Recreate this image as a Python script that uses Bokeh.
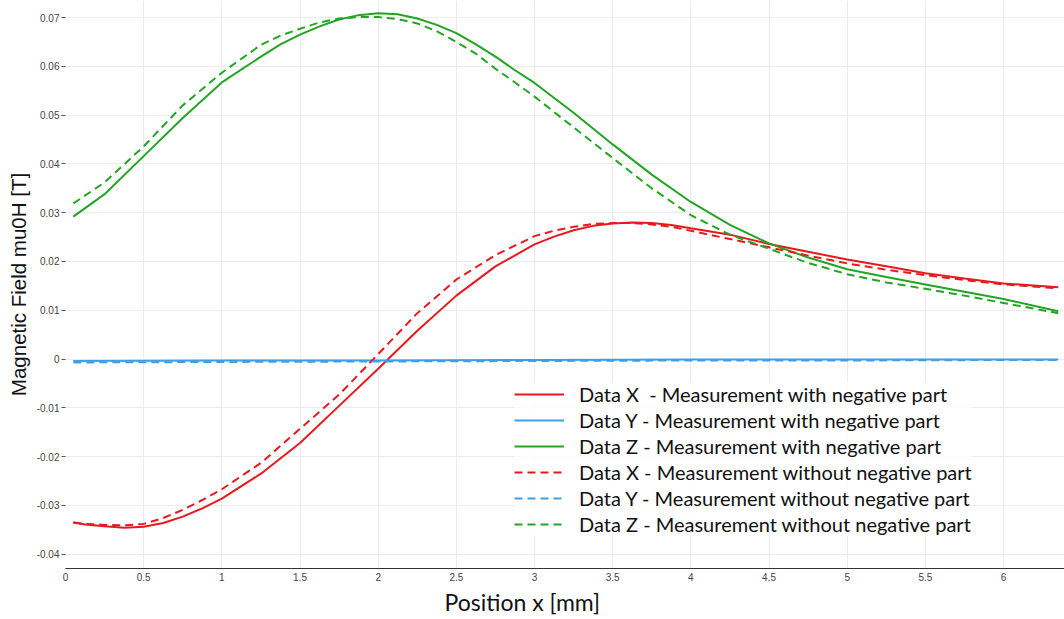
from bokeh.plotting import figure
from bokeh.models import Legend, LegendItem, FixedTicker, Range1d, ColumnDataSource, Title
from bokeh.embed import file_html
from bokeh.resources import INLINE

# ---- data ----
pos_x = [0.05, 0.125, 0.25, 0.375, 0.5, 0.625, 0.75, 0.875, 1.0, 1.25, 1.5, 1.75, 2.0, 2.25,
         2.5, 2.75, 3.0, 3.125, 3.25, 3.375, 3.5, 3.625, 3.75, 3.875, 4.0, 4.25, 4.5, 4.75,
         5.0, 5.25, 5.5, 5.75, 6.0, 6.35]
x_with = [-0.0335, -0.0339, -0.0343, -0.0346, -0.0344, -0.0336, -0.0323, -0.0306, -0.0286,
          -0.0235, -0.0172, -0.0096, -0.0020, 0.0058, 0.0130, 0.0190, 0.0235, 0.0251, 0.0264,
          0.0273, 0.0278, 0.0280, 0.0279, 0.0275, 0.0268, 0.0255, 0.0236, 0.0220, 0.0204,
          0.0190, 0.0176, 0.0165, 0.0155, 0.0147]
x_without = [-0.0335, -0.0338, -0.0340, -0.0341, -0.0338, -0.0326, -0.0309, -0.0289, -0.0267,
             -0.0213, -0.0143, -0.0073, 0.0010, 0.0094, 0.0163, 0.0213, 0.0252, 0.0263, 0.0271,
             0.0277, 0.0279, 0.0279, 0.0276, 0.0271, 0.0263, 0.0246, 0.0229, 0.0212, 0.0196,
             0.0183, 0.0172, 0.0162, 0.0153, 0.0145]

pos_y = [0.05, 1.0, 2.0, 3.0, 4.0, 5.0, 6.0, 6.35]
y_with = [-0.0004, -0.0003, -0.0003, -0.0002, -0.0001, -0.0001, -0.0001, -0.0001]
y_without = [-0.0007, -0.0006, -0.0005, -0.0004, -0.0003, -0.0003, -0.0002, -0.0002]

pos_z = [0.05, 0.25, 0.5, 0.75, 1.0, 1.25, 1.375, 1.5, 1.625, 1.75, 1.875, 2.0, 2.125, 2.25,
         2.375, 2.5, 2.625, 2.75, 2.875, 3.0, 3.25, 3.5, 3.75, 4.0, 4.25, 4.5, 4.75, 5.0,
         5.25, 5.5, 5.75, 6.0, 6.35]
z_with = [0.0292, 0.0338, 0.0416, 0.0494, 0.0567, 0.0620, 0.0645, 0.0665, 0.0682, 0.0696,
          0.0705, 0.0709, 0.0707, 0.0698, 0.0685, 0.0668, 0.0645, 0.0620, 0.0592, 0.0566,
          0.0505, 0.0440, 0.0378, 0.0322, 0.0275, 0.0237, 0.0208, 0.0184, 0.0168, 0.0153,
          0.0138, 0.0123, 0.0098]
z_without = [0.0319, 0.0362, 0.0436, 0.0520, 0.0587, 0.0644, 0.0663, 0.0677, 0.0690, 0.0698,
             0.0701, 0.0701, 0.0697, 0.0688, 0.0672, 0.0650, 0.0626, 0.0595, 0.0567, 0.0538,
             0.0475, 0.0412, 0.0350, 0.0295, 0.0255, 0.0226, 0.0197, 0.0174, 0.0157, 0.0144,
             0.0130, 0.0115, 0.0094]

series_labels = [
    "Data X  - Measurement with negative part",
    "Data Y - Measurement with negative part",
    "Data Z - Measurement with negative part",
    "Data X - Measurement without negative part",
    "Data Y - Measurement without negative part",
    "Data Z - Measurement without negative part",
]

x_ticks = [0, 0.5, 1, 1.5, 2, 2.5, 3, 3.5, 4, 4.5, 5, 5.5, 6]
x_tick_labels = ["0", "0.5", "1", "1.5", "2", "2.5", "3", "3.5", "4", "4.5", "5", "5.5", "6"]
y_ticks = [-0.04, -0.03, -0.02, -0.01, 0, 0.01, 0.02, 0.03, 0.04, 0.05, 0.06, 0.07]
y_tick_labels = ["-0.04", "-0.03", "-0.02", "-0.01", "0", "0.01", "0.02", "0.03",
                 "0.04", "0.05", "0.06", "0.07"]

RED = "#e8191e"
BLUE = "#3d9fe6"
GREEN = "#23a523"

p = figure(width=1064, height=619, output_backend="svg", toolbar_location=None,
           x_range=Range1d(0, 6.39), y_range=Range1d(-0.04294, 0.0735),
           min_border_left=65, min_border_right=0, min_border_top=0, min_border_bottom=51)
p.outline_line_color = None
p.background_fill_color = "white"
p.border_fill_color = "white"

sx = ColumnDataSource(dict(x=pos_x, w=x_with, o=x_without))
sy = ColumnDataSource(dict(x=pos_y, w=y_with, o=y_without))
sz = ColumnDataSource(dict(x=pos_z, w=z_with, o=z_without))

DASH = "8 5"
r1 = p.line("x", "w", source=sx, line_color=RED, line_width=2)
r2 = p.line("x", "w", source=sy, line_color=BLUE, line_width=2)
r3 = p.line("x", "w", source=sz, line_color=GREEN, line_width=2)
r4 = p.line("x", "o", source=sx, line_color=RED, line_width=2, line_dash=DASH)
r5 = p.line("x", "o", source=sy, line_color=BLUE, line_width=2, line_dash=DASH)
r6 = p.line("x", "o", source=sz, line_color=GREEN, line_width=2, line_dash=DASH)

# grid
p.xgrid.ticker = FixedTicker(ticks=x_ticks)
p.ygrid.ticker = FixedTicker(ticks=y_ticks)
p.xgrid.grid_line_color = "#ececec"
p.ygrid.grid_line_color = "#ececec"

# x axis
xa = p.xaxis[0]
xa.ticker = FixedTicker(ticks=x_ticks)
xa.major_label_overrides = {t: l for t, l in zip(x_ticks, x_tick_labels)}
xa.axis_line_color = "#333333"
xa.axis_line_width = 1
xa.major_tick_out = 0
xa.major_tick_in = 0
xa.minor_tick_out = 0
xa.minor_tick_in = 0
xa.major_label_text_font = "Liberation Sans"
xa.major_label_text_font_size = "10px"
xa.major_label_text_color = "#444444"
xa.major_label_standoff = 4

xtitle = Title(text="Position x [mm]", align="left", offset=379,
               text_font="Lato", text_font_size="23px", text_font_style="normal",
               text_color="#111111", standoff=4)
p.add_layout(xtitle, "below")

# y axis
ya = p.yaxis[0]
ya.ticker = FixedTicker(ticks=y_ticks)
ya.major_label_overrides = {t: l for t, l in zip(y_ticks, y_tick_labels)}
ya.axis_line_color = None
ya.major_tick_out = 4
ya.major_tick_in = 0
ya.major_tick_line_color = "#555555"
ya.minor_tick_out = 0
ya.minor_tick_in = 0
ya.major_label_text_font = "Liberation Sans"
ya.major_label_text_font_size = "10px"
ya.major_label_text_color = "#444444"
ya.major_label_standoff = 2
ya.axis_label = "Magnetic Field mu0H [T]"
ya.axis_label_text_font = "Liberation Sans"
ya.axis_label_text_font_size = "20.5px"
ya.axis_label_text_font_style = "normal"
ya.axis_label_text_color = "#111111"
ya.axis_label_standoff = 4

renderers = [r1, r2, r3, r4, r5, r6]
legend = Legend(items=[LegendItem(label=l, renderers=[r]) for l, r in zip(series_labels, renderers)],
                location=(449, 32))
legend.background_fill_color = "white"
legend.background_fill_alpha = 0.85
legend.border_line_color = None
legend.padding = 12
legend.margin = 0
legend.spacing = 2
legend.glyph_width = 50
legend.glyph_height = 24
legend.label_height = 24
legend.label_standoff = 15
legend.label_text_font = "Lato"
legend.label_text_font_size = "20px"
legend.label_text_color = "#111111"
p.add_layout(legend, "center")

open("out.html", "w").write(file_html(p, INLINE))
